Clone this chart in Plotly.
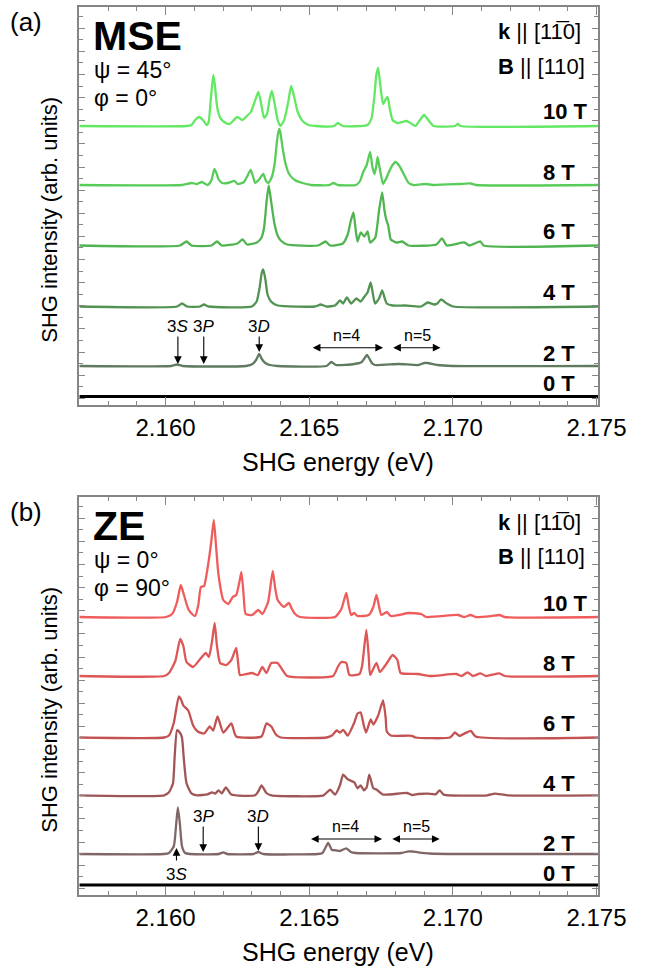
import plotly.graph_objects as go

# ---------------- data ----------------
fields = ["10 T", "8 T", "6 T", "4 T", "2 T", "0 T"]
xtick_vals = [2.160, 2.165, 2.170, 2.175]
xtick_text = ["2.160", "2.165", "2.170", "2.175"]

# (a) MSE spectra: energy (eV) and intensity (arb. units, baseline = 0)
mse_E_10 = [2.15700, 2.16073, 2.16090, 2.16103, 2.16117, 2.16130, 2.16143, 2.16150, 2.16157, 2.16166,
            2.16172, 2.16177, 2.16183, 2.16193, 2.16210, 2.16223, 2.16250, 2.16267, 2.16283, 2.16297,
            2.16310, 2.16323, 2.16333, 2.16343, 2.16353, 2.16363, 2.16370, 2.16380, 2.16390, 2.16400,
            2.16413, 2.16427, 2.16437, 2.16447, 2.16460, 2.16477, 2.16497, 2.16523, 2.16587, 2.16600,
            2.16617, 2.16703, 2.16717, 2.16727, 2.16733, 2.16740, 2.16747, 2.16757, 2.16767, 2.16773,
            2.16780, 2.16790, 2.16807, 2.16823, 2.16840, 2.16857, 2.16870, 2.16883, 2.16900, 2.16917,
            2.16933, 2.17007, 2.17017, 2.17027, 2.17505]
mse_I_10 = [0, 0, 1, 6, 9, 6, 1, 4, 25, 51,
            40, 25, 14, 7, 3, 2, 9, 6, 10, 14,
            24, 34, 22, 8, 12, 28, 35, 22, 6, 0,
            6, 24, 40, 30, 14, 5, 1, 0, 0, 3,
            0, 1, 8, 30, 50, 58, 42, 22, 27, 29,
            18, 6, 3, 4, 5, 2, 0, 5, 11, 5,
            0, 0, 2, 0, 0]

mse_E_8 = [2.15700, 2.16057, 2.16090, 2.16110, 2.16126, 2.16147, 2.16160, 2.16170, 2.16177, 2.16184,
           2.16197, 2.16217, 2.16240, 2.16251, 2.16273, 2.16283, 2.16296, 2.16303, 2.16312, 2.16327,
           2.16340, 2.16350, 2.16358, 2.16370, 2.16380, 2.16387, 2.16392, 2.16396, 2.16400, 2.16407,
           2.16417, 2.16430, 2.16450, 2.16477, 2.16507, 2.16570, 2.16584, 2.16600, 2.16663, 2.16677,
           2.16688, 2.16700, 2.16712, 2.16720, 2.16727, 2.16733, 2.16738, 2.16747, 2.16757, 2.16767,
           2.16779, 2.16790, 2.16801, 2.16814, 2.16829, 2.16846, 2.16863, 2.16907, 2.16930, 2.17023,
           2.17062, 2.17080, 2.17505]
mse_I_8 = [0, 0, 2, 1, 3, 0, 5, 16, 12, 6,
           2, 2, 4, 1, 3, 8, 15, 10, 2, 6,
           11, 4, 2, 8, 22, 42, 52, 56, 52, 38,
           22, 11, 5, 2, 0, 0, 2, 0, 0, 4,
           13, 20, 33, 18, 11, 18, 28, 14, 1, 6,
           14, 20, 23, 19, 11, 2, 0, 1, 0, 1,
           1.5, 0, 0]

mse_E_6 = [2.15700, 2.16050, 2.16073, 2.16090, 2.16160, 2.16179, 2.16196, 2.16250, 2.16268, 2.16284,
           2.16318, 2.16334, 2.16343, 2.16352, 2.16359, 2.16367, 2.16379, 2.16390, 2.16401, 2.16423,
           2.16530, 2.16557, 2.16573, 2.16617, 2.16634, 2.16645, 2.16654, 2.16662, 2.16668, 2.16679,
           2.16692, 2.16703, 2.16712, 2.16730, 2.16743, 2.16754, 2.16762, 2.16768, 2.16775, 2.16784,
           2.16803, 2.16823, 2.16846, 2.16943, 2.16962, 2.16979, 2.17040, 2.17057, 2.17096, 2.17107,
           2.17505]
mse_I_6 = [0, 0, 4, 0, 0, 4, 0, 2, 6, 1,
           3, 8, 18, 45, 60, 45, 22, 10, 5, 1,
           0, 4, 0, 2, 11, 25, 33, 15, 4, 13,
           9, 14, 3, 8, 35, 53, 35, 26, 20, 6,
           3, 4, 0, 1, 7, 0, 3, 0, 4, 0,
           0]

mse_E_4 = [2.15700, 2.16040, 2.16057, 2.16075, 2.16120, 2.16134, 2.16150, 2.16300, 2.16317, 2.16327,
           2.16335, 2.16340, 2.16347, 2.16355, 2.16367, 2.16390, 2.16520, 2.16540, 2.16560, 2.16590,
           2.16607, 2.16618, 2.16631, 2.16646, 2.16664, 2.16679, 2.16690, 2.16703, 2.16714, 2.16722,
           2.16729, 2.16743, 2.16754, 2.16763, 2.16770, 2.16790, 2.16834, 2.16890, 2.16912, 2.16935,
           2.16946, 2.16959, 2.16979, 2.17001, 2.17505]
mse_I_4 = [0, 0, 3, 0, 0, 2, 0, 0, 5, 18,
           34, 37, 28, 12, 5, 1, 0, 2, 0, 1,
           6, 3, 9, 3, 8, 5, 9, 14, 24, 12,
           3, 8, 16, 8, 3, 1, 1, 0, 4, 2,
           3, 7, 3, 0, 0]

mse_E_2 = [2.15700, 2.16020, 2.16040, 2.16060, 2.16280, 2.16303, 2.16315, 2.16326, 2.16335, 2.16347,
           2.16363, 2.16390, 2.16560, 2.16577, 2.16593, 2.16657, 2.16683, 2.16701, 2.16710, 2.16718,
           2.16729, 2.16812, 2.16880, 2.16901, 2.16912, 2.16946, 2.17000, 2.17505]
mse_I_2 = [0, 0, 1.5, 0, 0, 2, 6, 12, 7, 3,
           1, 0, 0, 4, 1, 2, 4, 11, 7, 3,
           1, 2, 1, 3, 3, 1, 0, 0]

mse_E_0 = [2.15700, 2.17505]
mse_I_0 = [0, 0]

# (b) ZE spectra
ze_E_10 = [2.15700, 2.16001, 2.16023, 2.16040, 2.16053, 2.16064, 2.16079, 2.16092, 2.16103, 2.16114,
           2.16123, 2.16134, 2.16148, 2.16159, 2.16168, 2.16176, 2.16184, 2.16201, 2.16218, 2.16234,
           2.16246, 2.16257, 2.16264, 2.16271, 2.16279, 2.16301, 2.16323, 2.16337, 2.16357, 2.16373,
           2.16381, 2.16390, 2.16412, 2.16429, 2.16440, 2.16451, 2.16468, 2.16590, 2.16612, 2.16629,
           2.16637, 2.16646, 2.16657, 2.16668, 2.16707, 2.16723, 2.16734, 2.16742, 2.16751, 2.16770,
           2.16784, 2.16812, 2.16846, 2.16890, 2.16907, 2.17018, 2.17040, 2.17062, 2.17080, 2.17134,
           2.17162, 2.17180, 2.17505]
ze_I_10 = [0, 0, 3, 15, 32, 22, 8, 3, 1, 12,
           30, 31, 52, 75, 97, 70, 43, 17, 13, 20,
           22, 35, 45, 25, 3, 2, 7, 3, 15, 46,
           30, 17, 10, 14, 8, 3, 0, 0, 8, 24,
           12, 2, 4, 1, 2, 10, 22, 12, 2, 5,
           1, 2, 4, 3, 0, 2, 0, 2, 0, 1,
           2, 0, 0]

ze_E_8 = [2.15700, 2.15995, 2.16012, 2.16034, 2.16051, 2.16062, 2.16073, 2.16096, 2.16118, 2.16140,
          2.16151, 2.16162, 2.16171, 2.16179, 2.16190, 2.16212, 2.16229, 2.16246, 2.16253, 2.16259,
          2.16301, 2.16321, 2.16337, 2.16351, 2.16368, 2.16390, 2.16407, 2.16423, 2.16583, 2.16601,
          2.16612, 2.16629, 2.16640, 2.16675, 2.16684, 2.16692, 2.16699, 2.16707, 2.16712, 2.16734,
          2.16746, 2.16773, 2.16790, 2.16807, 2.16818, 2.16879, 2.16920, 2.17012, 2.17030, 2.17051,
          2.17070, 2.17096, 2.17115, 2.17162, 2.17180, 2.17505]
ze_I_8 = [0, 0, 3, 15, 37, 30, 14, 9, 16, 23,
          19, 35, 53, 30, 13, 11, 16, 28, 12, 1,
          3, 1, 9, 3, 13, 13, 6, 0, 0, 10,
          14, 13, 1, 2, 10, 30, 46, 20, 1, 13,
          4, 14, 21, 16, 3, 2, 0, 2, 0, 3.7,
          0, 2.7, 0, 2.7, 0, 0]

ze_E_6 = [2.15700, 2.15995, 2.16012, 2.16029, 2.16046, 2.16054, 2.16062, 2.16079, 2.16096, 2.16112,
          2.16134, 2.16154, 2.16166, 2.16181, 2.16201, 2.16229, 2.16246, 2.16334, 2.16351, 2.16368,
          2.16384, 2.16401, 2.16560, 2.16579, 2.16596, 2.16607, 2.16618, 2.16634, 2.16657, 2.16668,
          2.16679, 2.16690, 2.16698, 2.16714, 2.16723, 2.16740, 2.16757, 2.16766, 2.16770, 2.16784,
          2.16857, 2.16870, 2.16990, 2.17007, 2.17023, 2.17062, 2.17079, 2.17505]
ze_I_6 = [0, 0, 2, 15, 41, 38, 32, 27, 12, 6,
          4, 11, 7, 21, 5, 14, 1, 1, 14, 11,
          3, 0, 0, 2, 7, 5, 7.7, 2, 15, 24,
          25, 12, 5, 18, 13, 22, 37, 20, 6, 2,
          1.7, 0, 0, 5, 1.7, 6.7, 1, 0]

ze_E_4 = [2.15700, 2.15995, 2.16012, 2.16026, 2.16032, 2.16040, 2.16049, 2.16057, 2.16064, 2.16073,
          2.16090, 2.16110, 2.16146, 2.16162, 2.16173, 2.16184, 2.16196, 2.16210, 2.16229, 2.16312,
          2.16323, 2.16334, 2.16351, 2.16368, 2.16550, 2.16573, 2.16590, 2.16607, 2.16618, 2.16634,
          2.16657, 2.16668, 2.16679, 2.16690, 2.16700, 2.16709, 2.16723, 2.16734, 2.16757, 2.16840,
          2.16857, 2.16879, 2.16912, 2.16940, 2.16954, 2.16968, 2.17120, 2.17146, 2.17190, 2.17505]
ze_I_4 = [0, 0, 3, 12, 40, 65, 63, 58, 35, 12,
          2, 0, 1, 3, 1.7, 5, 2, 8, 0.7, 0,
          4, 10, 2.3, 0, 0, 5.7, 0.7, 10, 20.7, 16,
          13, 7, 10, 5, 8, 20.7, 7, 5.7, 0.7, 2.3,
          0.3, 1.3, 1.7, 1, 5, 0.7, 0, 1.7, 0, 0]

ze_E_2 = [2.15700, 2.15995, 2.16012, 2.16029, 2.16037, 2.16043, 2.16050, 2.16057, 2.16068, 2.16085,
          2.16185, 2.16201, 2.16215, 2.16305, 2.16323, 2.16340, 2.16530, 2.16546, 2.16556, 2.16566,
          2.16579, 2.16593, 2.16607, 2.16629, 2.16645, 2.16662, 2.16820, 2.16846, 2.16860, 2.16879,
          2.16920, 2.17020, 2.17505]
ze_I_2 = [0, 0, 1, 8, 30, 46.7, 30, 8, 1, 0,
          0, 1.7, 0, 0, 2, 0, 0, 1, 6, 11,
          4, 3.7, 3, 5.7, 2, 1, 1, 2.7, 2.5, 1.7,
          0.5, 0, 0]

ze_E_0 = [2.15700, 2.17505]
ze_I_0 = [0, 0]

# vertical offsets of the stacked spectra (arb. units)
mse_offsets = [279, 220, 159.5, 98.5, 39, 8.5]
ze_offsets = [278, 219, 157.5, 99.7, 41, 10]

mse_E = [mse_E_10, mse_E_8, mse_E_6, mse_E_4, mse_E_2, mse_E_0]
mse_I = [mse_I_10, mse_I_8, mse_I_6, mse_I_4, mse_I_2, mse_I_0]
ze_E = [ze_E_10, ze_E_8, ze_E_6, ze_E_4, ze_E_2, ze_E_0]
ze_I = [ze_I_10, ze_I_8, ze_I_6, ze_I_4, ze_I_2, ze_I_0]

# ---------------- styling ----------------
W, H = 659, 971
FONT = "Arial, Liberation Sans, sans-serif"
green = ["rgb(98,232,98)", "rgb(88,204,88)", "rgb(80,180,80)", "rgb(82,146,82)", "rgb(96,122,96)", "black"]
red = ["rgb(240,92,92)", "rgb(222,86,86)", "rgb(196,82,82)", "rgb(160,86,86)", "rgb(128,102,102)", "black"]
FRAME = "#858585"


def px(x):
    return x / W


def py(y):
    return 1 - y / H


fig = go.Figure()

for E_list, I_list, offs, cols, xa, ya in [
    (mse_E, mse_I, mse_offsets, green, "x", "y"),
    (ze_E, ze_I, ze_offsets, red, "x2", "y2"),
]:
    for k in range(len(fields)):
        fig.add_trace(go.Scatter(
            x=E_list[k], y=[offs[k] + v for v in I_list[k]], mode="lines",
            line=dict(color=cols[k], width=3 if k == 5 else 2.3, shape="spline", smoothing=0.5),
            xaxis=xa, yaxis=ya, showlegend=False, hoverinfo="skip", name=fields[k]))

xcommon = dict(
    range=[2.157, 2.17505], showline=True, linecolor=FRAME, linewidth=1.5, mirror="ticks",
    ticks="inside", ticklen=8, tickwidth=1.2, tickcolor=FRAME,
    tickmode="array", tickvals=xtick_vals, ticktext=xtick_text,
    tickfont=dict(family=FONT, size=24, color="black"),
    minor=dict(tickmode="linear", tick0=2.160, dtick=0.001, ticks="inside", ticklen=4,
               tickwidth=1.2, tickcolor=FRAME, showgrid=False),
    showgrid=False, zeroline=False, ticklabelstandoff=0,
    domain=[px(83), px(625.5)],
)
ycommon = dict(
    range=[0, 398], showline=True, linecolor=FRAME, linewidth=1.5, mirror="ticks",
    ticks="inside", ticklen=6, tickwidth=1.2, tickcolor=FRAME,
    tickmode="linear", tick0=6.6, dtick=23.14, showticklabels=False,
    minor=dict(tickmode="linear", tick0=6.6, dtick=11.57, ticks="inside", ticklen=4,
               tickwidth=1.2, tickcolor=FRAME, showgrid=False),
    showgrid=False, zeroline=False,
)

fig.update_layout(
    width=W, height=H, autosize=False, margin=dict(l=0, r=0, t=0, b=0, pad=0),
    paper_bgcolor="white", plot_bgcolor="white", showlegend=False,
    xaxis=dict(xcommon, anchor="y"),
    yaxis=dict(ycommon, anchor="x", domain=[py(405), py(7)]),
    xaxis2=dict(xcommon, anchor="y2"),
    yaxis2=dict(ycommon, anchor="x2", domain=[py(895), py(497)]),
)

ann = []


def txt(x, y, s, size, xanchor="left", bold=False, family=FONT, angle=0):
    ann.append(dict(xref="paper", yref="paper", x=px(x), y=py(y), text=("<b>%s</b>" % s) if bold else s,
                    showarrow=False, xanchor=xanchor, yanchor="middle", textangle=angle,
                    borderpad=0, font=dict(family=family, size=size, color="black")))


panels = [
    dict(dy=0, label="(a)", name="MSE", psi="\u03c8 = 45\u00b0", phi="\u03c6 = 0\u00b0",
         fy=[112, 173, 232, 292, 353, 383]),
    dict(dy=490, label="(b)", name="ZE", psi="\u03c8 = 0\u00b0", phi="\u03c6 = 90\u00b0",
         fy=[603, 663, 723, 783, 843, 873]),
]
for p in panels:
    d = p["dy"]
    txt(27, 22 + d, p["label"], 26, xanchor="center")
    txt(96, 36 + d, p["name"], 41, bold=True)
    txt(97, 70 + d, p["psi"], 23)
    txt(97, 98 + d, p["phi"], 23)
    txt(520, 32 + d, "<b>k</b> || [11\u03050]", 22)
    txt(520, 66 + d, "<b>B</b> || [110]", 22)
    for f, yy in zip(fields, p["fy"]):
        txt(567, yy, f, 22, bold=True)
    txt(51, 220 + d, "SHG intensity (arb. units)", 22, xanchor="center", angle=-90)
    txt(354, 462 + d, "SHG energy (eV)", 25, xanchor="center")


def arrow(xa, ya, x0, y0, x1, y1, both=False):
    ann.append(dict(xref=xa, yref=ya, axref=xa, ayref=ya, x=x1, y=y1, ax=x0, ay=y0, text="",
                    showarrow=True, arrowhead=2, arrowsize=1.4, arrowwidth=1.1, arrowcolor="black",
                    arrowside="end+start" if both else "end", startarrowhead=2, startarrowsize=1.4))


def dtxt(xa, ya, x, y, s, size=17):
    ann.append(dict(xref=xa, yref=ya, x=x, y=y, text=s, showarrow=False, xanchor="center",
                    yanchor="middle", font=dict(family=FONT, size=size, color="black")))


# panel (a) state markers
dtxt("x", "y", 2.16043, 79, "3<i>S</i>")
dtxt("x", "y", 2.16133, 79, "3<i>P</i>")
dtxt("x", "y", 2.16326, 79, "3<i>D</i>")
arrow("x", "y", 2.16043, 70, 2.16043, 41)
arrow("x", "y", 2.16133, 70, 2.16133, 41)
arrow("x", "y", 2.16326, 70, 2.16326, 53)
dtxt("x", "y", 2.16629, 70, "n=4", 16)
dtxt("x", "y", 2.16877, 70, "n=5", 16)
arrow("x", "y", 2.16507, 57.3, 2.16757, 57.3, both=True)
arrow("x", "y", 2.16787, 57.3, 2.16957, 57.3, both=True)

# panel (b) state markers
dtxt("x2", "y2", 2.16038, 21, "3<i>S</i>")
arrow("x2", "y2", 2.16038, 33, 2.16038, 47)
dtxt("x2", "y2", 2.16131, 79, "3<i>P</i>")
dtxt("x2", "y2", 2.16323, 79, "3<i>D</i>")
arrow("x2", "y2", 2.16131, 70, 2.16131, 43)
arrow("x2", "y2", 2.16323, 70, 2.16323, 44)
dtxt("x2", "y2", 2.16626, 69, "n=4", 16)
dtxt("x2", "y2", 2.16873, 69, "n=5", 16)
arrow("x2", "y2", 2.16501, 56, 2.16754, 56, both=True)
arrow("x2", "y2", 2.16784, 56, 2.16954, 56, both=True)

fig.update_layout(annotations=ann)
fig.write_html("out.html", config={"responsive": False, "displayModeBar": False},
               post_script="document.body.style.margin='0';document.body.style.overflow='hidden';")
